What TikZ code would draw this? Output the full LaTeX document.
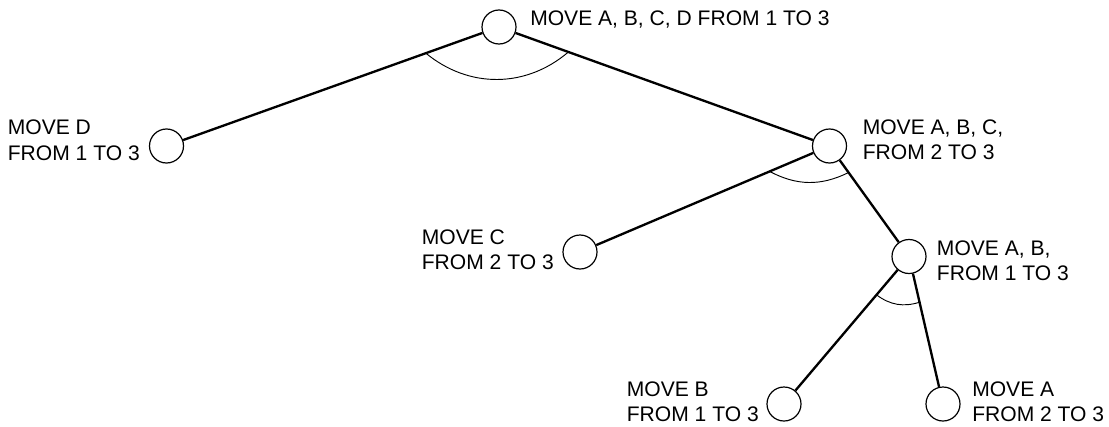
\documentclass[tikz,border=0pt]{standalone}
\usepackage{fontspec}
\setmainfont{Liberation Sans}
\usetikzlibrary{calc}

\begin{document}
\begin{tikzpicture}[x=0.75pt, y=0.75pt,
  goal/.style={circle, draw=black, line width=0.9pt, inner sep=0pt, minimum size=25.5pt},
  goaltext/.style={align=left, inner sep=0pt, font=\fontsize{15.8}{18.8}\selectfont},
  link/.style={line width=1.75pt},
  andarc/.style={line width=0.7pt}]

\useasboundingbox (0,0) rectangle (1109,426);

% Goals
\node[goal] (root) at (499, 399) {};
\node[goal] (d) at (166.5, 280) {};
\node[goal] (abc) at (829.5, 280) {};
\node[goal] (c) at (580, 174) {};
\node[goal] (ab) at (909, 169.5) {};
\node[goal] (b) at (784, 22) {};
\node[goal] (a) at (943, 22) {};

% Labels
\node[goaltext, anchor=north west] (rootlbl) at ([shift={(31,16)}]root) {MOVE A, B, C, D FROM 1 TO 3};
\node[goaltext, anchor=north east] (dlbl) at ([shift={(-26.5,26)}]d) {MOVE D\\FROM 1 TO 3};
\node[goaltext, anchor=north west] (abclbl) at ([shift={(33,26.5)}]abc) {MOVE A, B, C,\\FROM 2 TO 3};
\node[goaltext, anchor=north east] (clbl) at ([shift={(-26,22.7)}]c) {MOVE C\\FROM 2 TO 3};
\node[goaltext, anchor=north west] (ablbl) at ([shift={(27.7,15.8)}]ab) {MOVE A, B,\\FROM 1 TO 3};
\node[goaltext, anchor=north east] (blbl) at ([shift={(-25,22.3)}]b) {MOVE B\\FROM 1 TO 3};
\node[goaltext, anchor=north west] (albl) at ([shift={(29,22.3)}]a) {MOVE A\\FROM 2 TO 3};

% Subgoal links
\draw[link] (root) -- (d);
\draw[link] (root) -- (abc);
\draw[link] (abc) -- (c);
\draw[link] (abc) -- (ab);
\draw[link] (ab) -- (b);
\draw[link] (ab) -- (a);

% AND arcs
\coordinate (rootl) at ($(root)!0.22!(d)$);
\coordinate (rootr) at ($(root)!0.21!(abc)$);
\coordinate (abcl) at ($(abc)!0.24!(c)$);
\coordinate (abcr) at ($(abc)!0.24!(ab)$);
\coordinate (abl) at ($(ab)!0.26!(b)$);
\coordinate (abr) at ($(ab)!0.31!(a)$);

\draw[andarc] (rootl) to[bend right=40] (rootr);
\draw[andarc] (abcl) to[bend right=27] (abcr);
\draw[andarc] (abl) to[bend right=27] (abr);
\end{tikzpicture}
\end{document}
